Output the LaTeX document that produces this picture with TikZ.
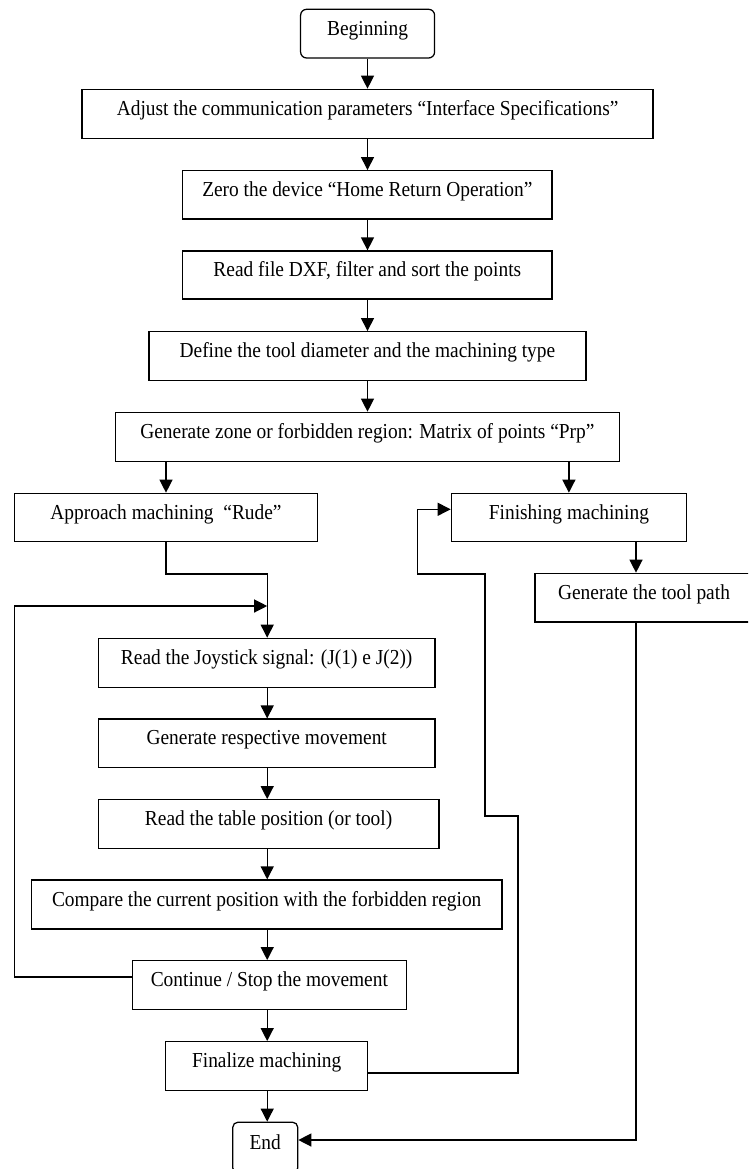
\documentclass[tikz,border=0pt]{standalone}
\usepackage{fontspec}
\usepackage{graphicx}
\setmainfont{Liberation Serif}
\usetikzlibrary{arrows.meta}
\newcommand{\tallt}[1]{\scalebox{1}[1.1]{#1}}
\begin{document}
\begin{tikzpicture}[x=1pt,y=-1pt,
  box/.style={draw, line width=1.25pt, inner sep=0pt, text height=13pt, text depth=10pt,
    font=\fontsize{19.4}{23}\selectfont},
  term/.style={box, rounded corners=6pt},
  arr/.style={-{Triangle[length=13pt,width=13pt]}, line width=1.25pt}]
\useasboundingbox (0,0) rectangle (748,1169);
\clip (0,0) rectangle (748,1169);
% nodes
\node[term, minimum width=134pt, minimum height=48.7pt] (begin) at (367.6,33.65) {\tallt{Beginning}};
\node[box, minimum width=571pt, minimum height=49.4pt] (adjust) at (367.6,114) {\tallt{Adjust the communication parameters “Interface Specifications”}};
\node[box, minimum width=369.3pt, minimum height=48.3pt] (zero) at (367.35,194.85) {\tallt{Zero the device “Home Return Operation”}};
\node[box, minimum width=369.3pt, minimum height=48pt] (dxf) at (367.35,275) {\tallt{Read file DXF, filter and sort the points}};
\node[box, minimum width=437pt, minimum height=49pt] (define) at (367.4,356.2) {\tallt{Define the tool diameter and the machining type}};
\node[box, minimum width=503.8pt, minimum height=49.4pt] (zone) at (367.4,437) {\tallt{Generate zone or forbidden region: Matrix of points “Prp”}};
\node[box, minimum width=303.4pt, minimum height=48.4pt] (approach) at (166,517.5) {\tallt{Approach machining~ “Rude”}};
\node[box, minimum width=235.2pt, minimum height=48.4pt] (finishing) at (568.9,517.5) {\tallt{Finishing machining}};
\node[box, minimum width=218pt, minimum height=48.7pt] (toolpath) at (644,597.65) {\tallt{Generate the tool path}};
\node[box, minimum width=336.8pt, minimum height=49pt] (joystick) at (266.7,662.8) {\tallt{Read the Joystick signal: (J(1) e J(2))}};
\node[box, minimum width=336.8pt, minimum height=48.3pt] (genresp) at (266.7,743.2) {\tallt{Generate respective movement}};
\node[box, minimum width=340.6pt, minimum height=49pt] (table) at (268.6,824.2) {\tallt{Read the table position (or tool)}};
\node[box, minimum width=470.4pt, minimum height=49pt] (compare) at (266.7,904.5) {\tallt{Compare the current position with the forbidden region}};
\node[box, minimum width=274.3pt, minimum height=49pt] (continue) at (269.35,985.2) {\tallt{Continue / Stop the movement}};
\node[box, minimum width=202.2pt, minimum height=48.6pt] (finalize) at (266.7,1066) {\tallt{Finalize machining}};
\node[term, rounded corners=5pt, minimum width=64.9pt, minimum height=50.7pt] (end) at (265.25,1147.6) {\tallt{End}};
% helper coordinates
\coordinate (mc) at (367.5,0);
\coordinate (lc) at (267.2,0);
\coordinate (tp) at (636,0);
\coordinate (lp) at (14.3,606);
\coordinate (r1) at (518,816);
\coordinate (r2) at (485,574);
\coordinate (r3) at (417.7,509.3);
% main column
\draw[arr] (mc |- begin.south) -- (mc |- adjust.north);
\draw[arr] (mc |- adjust.south) -- (mc |- zero.north);
\draw[arr] (mc |- zero.south) -- (mc |- dxf.north);
\draw[arr] (mc |- dxf.south) -- (mc |- define.north);
\draw[arr] (mc |- define.south) -- (mc |- zone.north);
\draw[arr] (zone.south -| approach.north) -- (approach.north);
\draw[arr] (zone.south -| finishing.north) -- (finishing.north);
\draw[arr] (tp |- finishing.south) -- (tp |- toolpath.north);
\draw[arr] (approach.south) -- ++(0,31.6) -| (lc |- joystick.north);
% left column
\draw[arr] (lc |- joystick.south) -- (lc |- genresp.north);
\draw[arr] (lc |- genresp.south) -- (lc |- table.north);
\draw[arr] (lc |- table.south) -- (lc |- compare.north);
\draw[arr] (lc |- compare.south) -- (lc |- continue.north);
\draw[arr] (lc |- continue.south) -- (lc |- finalize.north);
\draw[arr] (lc |- finalize.south) -- (lc |- end.north);
% loops
\draw[arr] ([yshift=8.2pt]continue.west) -| (lp) -- (lp -| lc);
\draw[arr] ([yshift=-7pt]finalize.east) -| (r1) -| (r2) -| (r3) -- (r3 -| finishing.west);
\draw[arr] (tp |- toolpath.south) |- ([yshift=7.6pt]end.east);
\end{tikzpicture}
\end{document}
